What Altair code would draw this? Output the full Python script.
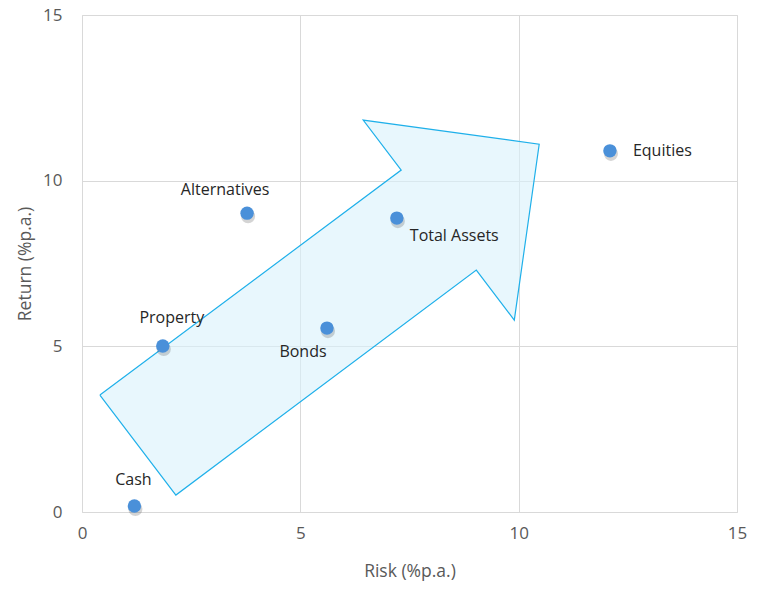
import altair as alt
import pandas as pd

# Asset points
names = ["Cash", "Property", "Alternatives", "Bonds", "Total Assets", "Equities"]
risk = [1.20, 1.85, 3.78, 5.61, 7.21, 12.09]
ret = [0.18, 5.01, 9.02, 5.55, 8.87, 10.9]

# Arrow outline vertices (risk, return)
arrow_x = [0.41, 7.31, 6.44, 10.47, 9.90, 9.03, 2.15, 0.41]
arrow_y = [3.53, 10.32, 11.83, 11.10, 5.79, 7.30, 0.51, 3.53]

pts = pd.DataFrame({"name": names, "risk": risk, "ret": ret})
arrow = pd.DataFrame({"x": arrow_x, "y": arrow_y, "i": list(range(len(arrow_x)))})

FONT = "Open Sans"
xs = alt.Scale(domain=[0, 15], nice=False, zero=False)
ys = alt.Scale(domain=[0, 15], nice=False, zero=False)

xaxis = alt.Axis(values=[0, 5, 10, 15], title="Risk (%p.a.)", domain=False, ticks=False,
                 labelFontSize=17, labelColor="#595959", labelPadding=13, labelFont=FONT,
                 labelFlush=False,
                 titleFontSize=17.5, titleColor="#595959", titleFontWeight="normal",
                 titleFont=FONT, titlePadding=21, gridColor="#d9d9d9")
yaxis = alt.Axis(values=[0, 5, 10, 15], title="Return (%p.a.)", domain=False, ticks=False,
                 labelFontSize=17, labelColor="#595959", labelPadding=20, labelFont=FONT,
                 labelFlush=False,
                 titleFontSize=17.5, titleColor="#595959", titleFontWeight="normal",
                 titleFont=FONT, titlePadding=8, gridColor="#d9d9d9")

arrow_layer = alt.Chart(arrow).mark_line(
    fill="#d8f1fb", fillOpacity=0.6, stroke="#1fb0ea", strokeWidth=1.2
).encode(
    x=alt.X("x:Q", scale=xs, axis=xaxis),
    y=alt.Y("y:Q", scale=ys, axis=yaxis),
    order="i:O",
)

shadow = alt.Chart(pts).mark_circle(size=200, color="#3a3a3a", opacity=0.22, yOffset=3, xOffset=1).encode(
    x=alt.X("risk:Q", scale=xs), y=alt.Y("ret:Q", scale=ys)
)
points = alt.Chart(pts).mark_circle(size=180, color="#4a90d9", opacity=1).encode(
    x=alt.X("risk:Q", scale=xs), y=alt.Y("ret:Q", scale=ys)
)

def label(name, align, dx, dy):
    return alt.Chart(pts).transform_filter(alt.datum.name == name).mark_text(
        font=FONT, fontSize=16, color="#262626", align=align, baseline="middle", dx=dx, dy=dy
    ).encode(x=alt.X("risk:Q", scale=xs), y=alt.Y("ret:Q", scale=ys), text="name:N")

chart = alt.layer(
    arrow_layer, shadow, points,
    label("Cash", "center", -1, -26),
    label("Property", "center", 9, -28),
    label("Alternatives", "center", -22, -23),
    label("Bonds", "center", -24, 24),
    label("Total Assets", "left", 13, 18),
    label("Equities", "left", 23, 0),
).properties(
    width=655, height=497,
    autosize=alt.AutoSizeParams(type="none"),
    padding={"left": 82, "top": 15, "right": 22, "bottom": 80},
).configure_view(stroke="#d9d9d9", strokeWidth=1).configure(background="white")

chart.save("out.html", embed_options={"renderer": "svg", "actions": False})
